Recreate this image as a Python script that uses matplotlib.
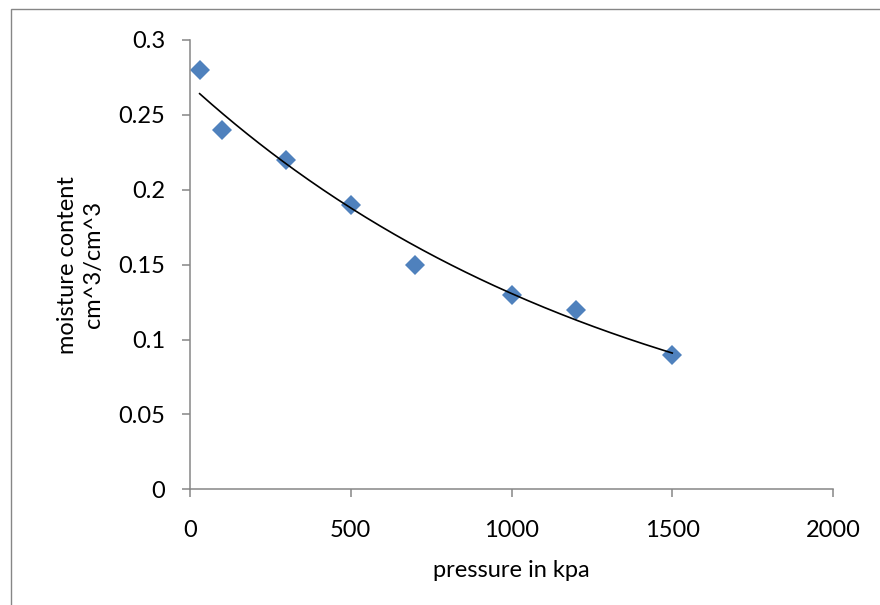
import numpy as np
import matplotlib
matplotlib.use('Agg')
from matplotlib import pyplot as plt
from matplotlib.patches import Rectangle

# Data
pressure = [30, 100, 300, 500, 700, 1000, 1200, 1500]
moisture = [0.28, 0.24, 0.22, 0.19, 0.15, 0.13, 0.12, 0.09]
x_ticks = [0, 500, 1000, 1500, 2000]
y_ticks = [0, 0.05, 0.1, 0.15, 0.2, 0.25, 0.3]

plt.rcParams['font.family'] = ['Lato', 'DejaVu Sans']

fig = plt.figure(figsize=(8.8, 6.05), dpi=100)
ax = fig.add_axes([190 / 880, 1 - 489.3 / 605, 643 / 880, 449.3 / 605])

# Excel-style exponential trendline (least squares on log y)
b, ln_a = np.polyfit(pressure, np.log(moisture), 1)
xs = np.linspace(pressure[0], pressure[-1], 200)
ax.plot(xs, np.exp(ln_a) * np.exp(b * xs), color='black', lw=1.2, zorder=3)

ax.plot(pressure, moisture, linestyle='none', marker='D', markersize=10,
        color='#4F81BD', markeredgewidth=0, zorder=2)

ax.set_xlim(0, 2000)
ax.set_ylim(0, 0.3)
ax.set_xticks(x_ticks)
ax.set_yticks(y_ticks)
ax.set_xticklabels([str(t) for t in x_ticks])
ax.set_yticklabels(['0', '0.05', '0.1', '0.15', '0.2', '0.25', '0.3'])

for side in ['top', 'right']:
    ax.spines[side].set_visible(False)
for side in ['left', 'bottom']:
    ax.spines[side].set_color('#868686')
    ax.spines[side].set_linewidth(1.1)

ax.tick_params(axis='y', direction='out', length=6, width=1.1, color='#868686',
               labelsize=17, pad=12)
ax.tick_params(axis='x', direction='out', length=6, width=1.1, color='#868686',
               labelsize=17, pad=16)

ax.set_xlabel('pressure in kpa', fontsize=17, labelpad=14)
ax.set_ylabel('moisture content\ncm^3/cm^3', fontsize=17, labelpad=10,
              linespacing=1.3)

# outer chart frame (only left and top edges visible in the crop)
fig.patches.append(Rectangle((10.5 / 880, -0.1), 2, 1 - 9.5 / 605 + 0.1,
                             transform=fig.transFigure, fill=False,
                             edgecolor='#868686', lw=1.0))

fig.savefig('out.png', dpi=100)
